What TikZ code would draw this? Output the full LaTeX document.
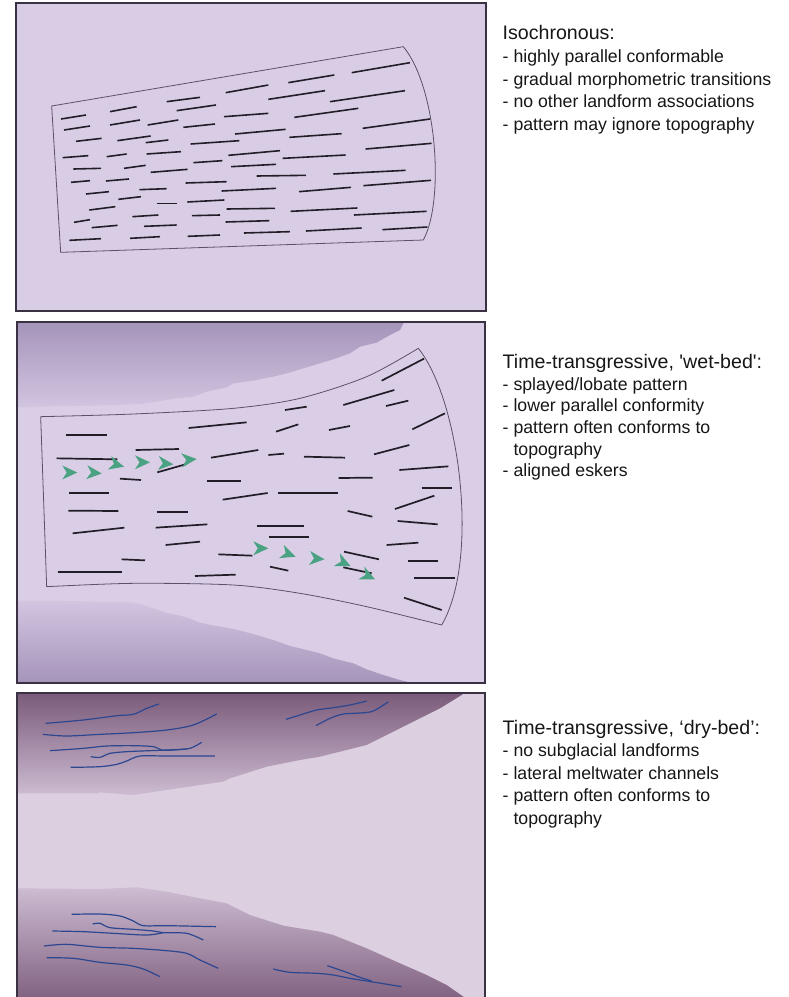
\documentclass[tikz,border=0pt]{standalone}
\usepackage{fontspec}
\setmainfont{Liberation Sans}[Ligatures=TeXOff]
\definecolor{paper}{HTML}{FFFFFF}
\definecolor{frameink}{HTML}{3A3242}
\definecolor{fanink}{HTML}{5E5068}
\definecolor{ridgeink}{HTML}{221E28}
\definecolor{pA}{HTML}{D9CDE6}
\definecolor{pB}{HTML}{DACEE6}
\definecolor{pBdark}{HTML}{A594BA}
\definecolor{pBedge}{HTML}{D2C5E0}
\definecolor{pC}{HTML}{DCCFE0}
\definecolor{pCdark}{HTML}{7A5A7A}
\definecolor{pCedge}{HTML}{CDBCD2}
\definecolor{eskergreen}{HTML}{4AA282}
\definecolor{channelblue}{HTML}{2C4690}
\definecolor{textink}{HTML}{161616}
\begin{document}
\begin{tikzpicture}[x=1pt,y=-1pt,
  panelframe/.style={draw=frameink, line width=1.6pt},
  fanline/.style={draw=fanink, line width=0.8pt},
  ridge/.style={draw=ridgeink, line width=1.6pt},
  ridgeB/.style={draw=ridgeink, line width=1.7pt},
  channel/.style={draw=channelblue, line width=1.2pt},
  heading/.style={anchor=base west, inner sep=0pt, text=textink, font=\fontsize{19.6}{22}\selectfont},
  item/.style={anchor=base west, inner sep=0pt, text=textink, font=\fontsize{17.7}{22}\selectfont},
  eskerhead/.pic={\fill[eskergreen] (0,0) -- (-15,-7) -- (-10.5,0) -- (-15,7) -- cycle;}]
\useasboundingbox (0,0) rectangle (789,997);
\clip (0,0) rectangle (789,997);
\fill[paper] (0,0) rectangle (789,997);

% ---------- upper panel: isochronous ----------
\fill[pA] (16,3) rectangle (486,311);
\begin{scope}[scale=1/3]
  \draw[fanline] (155,318) -- (1210,140) .. controls (1310,260) and (1335,600) .. (1270,720) -- (182,757) -- cycle;
  \foreach \a/\b/\c/\d in {1055/218/1230/188, 865/248/1003/225, 677/278/805/255, 500/305/600/292,
    805/298/975/272, 990/305/1215/272, 330/335/410/320, 530/332/648/315, 183/357/258/345,
    192/390/270/378, 330/375/420/360, 443/375/535/360, 550/382/645/372, 672/350/805/340,
    883/352/1075/325, 1088/385/1290/357, 228/424/305/415, 352/422/452/408, 437/428/505/420,
    572/432/718/422, 705/402/857/388, 868/412/1025/401, 1097/447/1295/430, 188/473/265/467,
    320/470/380/462, 440/462/543/455, 580/488/667/482, 685/466/840/452, 848/475/1037/465,
    220/507/303/505, 372/505/437/496, 452/517/563/508, 693/500/828/493, 213/547/270/542,
    318/543/387/537, 557/549/680/545, 770/528/918/526, 1000/522/1217/511, 258/582/327/575,
    418/569/500/566, 665/573/828/565, 897/575/1053/562, 1090/557/1293/541, 355/598/423/590,
    268/630/346/620, 470/610/532/610, 562/606/673/600, 680/627/825/625, 872/634/1072/624,
    222/667/270/659, 397/650/475/645, 576/647/660/645, 1062/645/1280/634, 275/683/353/676,
    432/679/530/675, 677/666/808/662, 208/721/303/716, 390/715/480/710, 563/709/660/705,
    732/699/870/695, 918/693/1085/684, 1147/689/1282/681}
    \draw[ridge] (\a,\b) -- (\c,\d);
\end{scope}
\draw[panelframe] (16,3) rectangle (486,311);

% ---------- middle panel: wet-bed ----------
\fill[pB] (17,322) rectangle (485,683);
\begin{scope}[shift={(0,330)}, scale=1/3]
  \shade[top color=pBdark, bottom color=pBedge]
    (51,-24) -- (51,232) -- (200,228) -- (330,226) -- (420,222) -- (470,215) -- (530,205)
    -- (580,200) -- (620,185) -- (680,172) -- (700,160) -- (760,152) -- (820,140) -- (860,130)
    -- (900,118) -- (960,100) -- (1000,88) -- (1050,70) -- (1080,50) -- (1130,38) -- (1170,15)
    -- (1200,0) -- (1212,-24) -- cycle;
  \shade[top color=pBedge, bottom color=pBdark]
    (51,812) -- (150,812) -- (300,815) -- (380,815) -- (420,822) -- (460,835) -- (500,848)
    -- (560,862) -- (600,878) -- (650,888) -- (700,897) -- (760,912) -- (820,930) -- (870,948)
    -- (900,955) -- (960,970) -- (1000,985) -- (1060,1000) -- (1100,1018) -- (1150,1035)
    -- (1200,1050) -- (1240,1060) -- (51,1060) -- cycle;
  \draw[fanline] plot[smooth] coordinates {(122,260) (400,252) (700,235) (900,205) (1100,140) (1255,55)}
    .. controls (1380,210) and (1440,690) .. (1325,885)
    -- plot[smooth] coordinates {(1325,885) (1100,830) (900,790) (700,765) (400,760) (140,770)}
    -- cycle;
  \foreach \a/\b/\c/\d in {1145/152/1272/86, 1030/225/1183/180, 1158/228/1225/212, 855/240/920/230,
    566/294/740/277, 828/305/895/283, 987/300/1050/288, 1237/298/1335/250, 198/316/320/316,
    407/360/537/357, 170/385/352/388, 633/383/775/360, 805/375/852/371, 912/380/1035/383,
    1122/373/1228/345, 472/427/560/402, 360/446/423/450, 620/452/722/452, 1016/444/1118/443,
    1198/420/1345/409, 1265/475/1355/475, 208/489/328/489, 668/509/803/489, 835/490/1015/490,
    1185/537/1303/497, 205/542/355/543, 470/545/565/545, 1043/543/1117/560, 218/610/373/593,
    467/593/622/583, 770/587/912/587, 1193/573/1313/583, 808/620/927/620, 497/645/600/635,
    1160/645/1255/638, 655/673/757/677, 1032/665/1137/688, 365/688/435/691, 1223/692/1313/692,
    810/710/865/722, 1030/712/1115/730, 173/727/367/727, 585/738/707/734, 1243/745/1365/745,
    1212/803/1325/840}
    \draw[ridgeB] (\a,\b) -- (\c,\d);
\end{scope}
% aligned eskers
\pic at (77.3,472.5) {eskerhead};
\pic[rotate=-5] at (101.7,473.5) {eskerhead};
\pic[rotate=-15] at (124,466.7) {eskerhead};
\pic at (150,462.3) {eskerhead};
\pic[rotate=-5] at (173.3,464.3) {eskerhead};
\pic[rotate=5] at (196.7,459) {eskerhead};
\pic at (268.3,548.3) {eskerhead};
\pic[rotate=-20] at (295.5,556.7) {eskerhead};
\pic[rotate=-5] at (324.5,559.3) {eskerhead};
\pic[rotate=-25] at (350.5,566) {eskerhead};
\pic[rotate=-25] at (375,579.3) {eskerhead};
\draw[panelframe] (17,322) rectangle (485,683);

% ---------- lower panel: dry-bed ----------
\fill[pC] (17,693) rectangle (485,1010);
\begin{scope}[shift={(0,685)}, scale=1/3]
  \shade[top color=pCdark, bottom color=pCedge]
    (51,24) -- (51,325) -- (290,325) -- (300,322) -- (400,330) -- (500,315) -- (600,300)
    -- (670,290) -- (690,280) -- (800,245) -- (900,225) -- (960,215) -- (1000,205) -- (1100,180)
    -- (1200,130) -- (1260,100) -- (1320,70) -- (1385,30) -- (1392,24) -- cycle;
  \shade[top color=pCedge, bottom color=pCdark]
    (51,610) -- (300,612) -- (410,607) -- (500,620) -- (600,640) -- (680,655) -- (750,690)
    -- (850,722) -- (960,740) -- (1000,750) -- (1100,790) -- (1200,835) -- (1280,870)
    -- (1340,900) -- (1390,935) -- (1440,970) -- (51,970) -- cycle;
  % lateral meltwater channels
  \draw[channel] plot[smooth] coordinates {(137,115) (250,105) (350,92) (400,88) (440,70) (477,57)};
  \draw[channel] plot[smooth] coordinates {(128,148) (200,153) (300,148) (400,143) (500,135) (580,120) (650,87)};
  \draw[channel] plot[smooth] coordinates {(150,197) (250,190) (320,183) (400,182) (460,185) (485,195) (520,195) (570,190) (605,172)};
  \draw[channel] plot[smooth] coordinates {(272,215) (300,217) (330,205) (380,200) (450,197) (500,195) (560,192)};
  \draw[channel] plot[smooth] coordinates {(212,247) (300,245) (350,238) (380,228) (420,213) (500,213) (645,213)};
  \draw[channel] plot[smooth] coordinates {(858,103) (900,90) (950,75) (1000,68) (1050,60) (1100,48)};
  \draw[channel] plot[smooth] coordinates {(948,122) (990,100) (1030,87) (1080,84) (1120,78) (1165,50)};
  \draw[channel] plot[smooth] coordinates {(215,688) (300,687) (360,693) (400,708) (430,722) (500,722) (648,725)};
  \draw[channel] plot[smooth] coordinates {(278,717) (300,715) (330,728) (400,733) (460,738) (490,743) (560,745) (610,765)};
  \draw[channel] plot[smooth] coordinates {(157,738) (250,740) (340,745) (440,750) (490,743)};
  \draw[channel] plot[smooth] coordinates {(132,783) (200,778) (300,787) (400,790) (500,797) (560,805) (600,825) (655,850)};
  \draw[channel] plot[smooth] coordinates {(140,818) (220,820) (300,832) (380,840) (430,852) (480,875)};
  \draw[channel] plot[smooth] coordinates {(820,852) (870,862) (950,865) (1000,870) (1050,880) (1100,888) (1150,896) (1205,905)};
  \draw[channel] plot[smooth] coordinates {(982,842) (1040,862) (1080,877) (1115,888)};
\end{scope}
\draw[panelframe] (17,693) rectangle (485,1010);

% ---------- descriptions ----------
\node[heading] (isoT) at (502.5,39.5) {Isochronous:};
\node[item] (iso1) at (502.5,62.3) {- highly parallel conformable};
\node[item] (iso2) at (502.5,85) {- gradual morphometric transitions};
\node[item] (iso3) at (502.5,107.6) {- no other landform associations};
\node[item] (iso4) at (502.5,130.3) {- pattern may ignore topography};

\node[heading] (wetT) at (502.5,368.3) {Time-transgressive, 'wet-bed':};
\node[item] (wet1) at (502.5,390) {- splayed/lobate pattern};
\node[item] (wet2) at (502.5,411.7) {- lower parallel conformity};
\node[item] (wet3) at (502.5,433.4) {- pattern often conforms to};
\node[item] (wet4) at (502.5,455.1) {\phantom{- }topography};
\node[item] (wet5) at (502.5,476.8) {- aligned eskers};

\node[heading] (dryT) at (502.5,734.3) {Time-transgressive, ‘dry-bed’:};
\node[item] (dry1) at (502.5,756.7) {- no subglacial landforms};
\node[item] (dry2) at (502.5,779.2) {- lateral meltwater channels};
\node[item] (dry3) at (502.5,801.6) {- pattern often conforms to};
\node[item] (dry4) at (502.5,824) {\phantom{- }topography};
\end{tikzpicture}
\end{document}
